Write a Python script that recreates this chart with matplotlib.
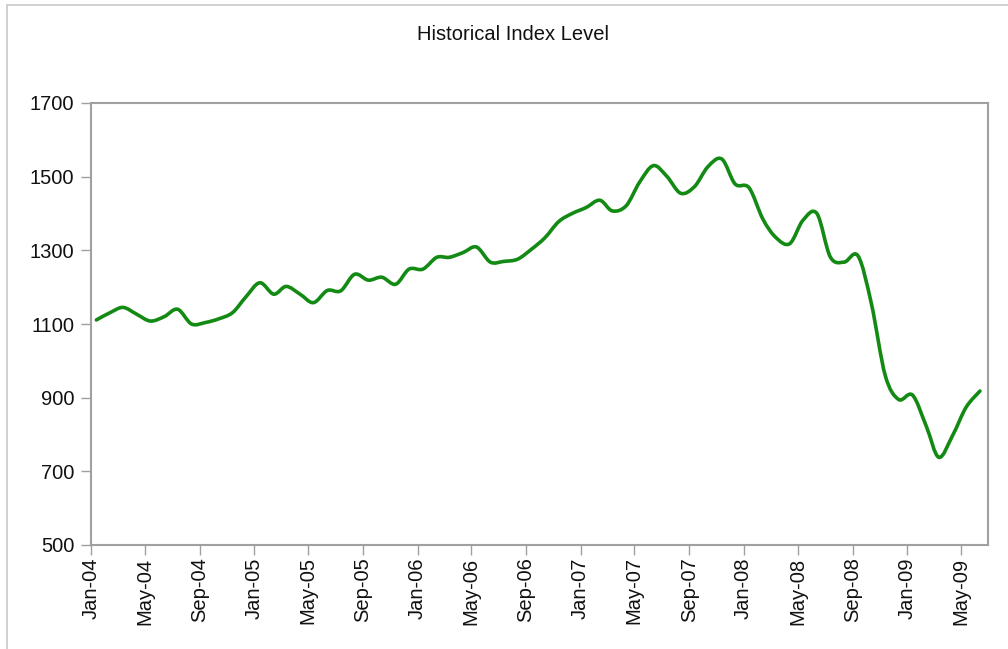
import matplotlib
matplotlib.use("Agg")
import matplotlib.pyplot as plt
import matplotlib.dates as mdates
from matplotlib.patches import Rectangle, PathPatch
from matplotlib.path import Path
import datetime as dt

plt.rcParams['font.family'] = ['Liberation Sans', 'DejaVu Sans']

# Monthly index levels, Jan-04 .. Jun-09
months = [dt.date(2004 + (i // 12), i % 12 + 1, 13) for i in range(66)]
values = [1111, 1131, 1145, 1126, 1108, 1120, 1140, 1100, 1104, 1114, 1131, 1174,
          1212, 1181, 1202, 1181, 1158, 1191, 1190, 1235, 1219, 1227, 1208, 1249,
          1249, 1281, 1281, 1294, 1309, 1268, 1270, 1276, 1303, 1334, 1378, 1400,
          1416, 1436, 1407, 1421, 1485, 1530, 1501, 1455, 1473, 1527, 1548, 1480,
          1470, 1385, 1335, 1318, 1382, 1400, 1282, 1268, 1285, 1155, 960, 895,
          907, 822, 738, 798, 874, 918]
yticks = [500, 700, 900, 1100, 1300, 1500, 1700]
title = "Historical Index Level"

fig = plt.figure(figsize=(10.08, 6.49), dpi=100)
fig.patch.set_facecolor('white')
# outer chart-area frame
fig.patches.append(Rectangle((7 / 1008, -0.1), 1.2, 1 - 5 / 649 + 0.1,
                             transform=fig.transFigure, fill=False,
                             edgecolor='#c8c8c8', linewidth=1.2))

ax = fig.add_axes([91 / 1008, 1 - 545 / 649, (988 - 91) / 1008, (545 - 103) / 649])

# smoothed line (cubic Bezier segments through every data point, like a
# spreadsheet "smoothed line")
xs = [mdates.date2num(d) for d in months]
ys = values
n = len(xs)
verts = [(xs[0], ys[0])]
codes = [Path.MOVETO]
for i in range(n - 1):
    x0, y0 = (xs[i - 1], ys[i - 1]) if i > 0 else (xs[i], ys[i])
    x1, y1 = xs[i], ys[i]
    x2, y2 = xs[i + 1], ys[i + 1]
    x3, y3 = (xs[i + 2], ys[i + 2]) if i + 2 < n else (xs[i + 1], ys[i + 1])
    c1 = (x1 + (x2 - x0) / 6.0, y1 + (y2 - y0) / 6.0)
    c2 = (x2 - (x3 - x1) / 6.0, y2 - (y3 - y1) / 6.0)
    verts += [c1, c2, (x2, y2)]
    codes += [Path.CURVE4] * 3
line = PathPatch(Path(verts, codes), facecolor='none', edgecolor='#138a13',
                 linewidth=2.6, joinstyle='round', capstyle='round')
ax.add_patch(line)

ax.set_ylim(500, 1700)
ax.set_yticks(yticks)
ax.set_xlim(dt.date(2004, 1, 1), dt.date(2009, 7, 1))
ax.xaxis.set_major_locator(mdates.MonthLocator(bymonth=[1, 5, 9]))
ax.xaxis.set_major_formatter(mdates.DateFormatter('%b-%y'))

for s in ax.spines.values():
    s.set_color('#a0a0a0')
    s.set_linewidth(1.5)
ax.tick_params(axis='both', colors='#a0a0a0', length=7, width=1, labelcolor='#111111')
ax.tick_params(axis='y', pad=5, labelsize=14.5)
ax.tick_params(axis='x', pad=2, labelsize=14.5)
for lab in ax.get_xticklabels():
    lab.set_rotation(90)
    lab.set_ha('center')
    lab.set_va('top')

fig.text(513 / 1008, 1 - 35 / 649, title, ha='center', va='center', fontsize=14.5,
         color='#111111')

fig.savefig('out.png', dpi=100, facecolor='white')
